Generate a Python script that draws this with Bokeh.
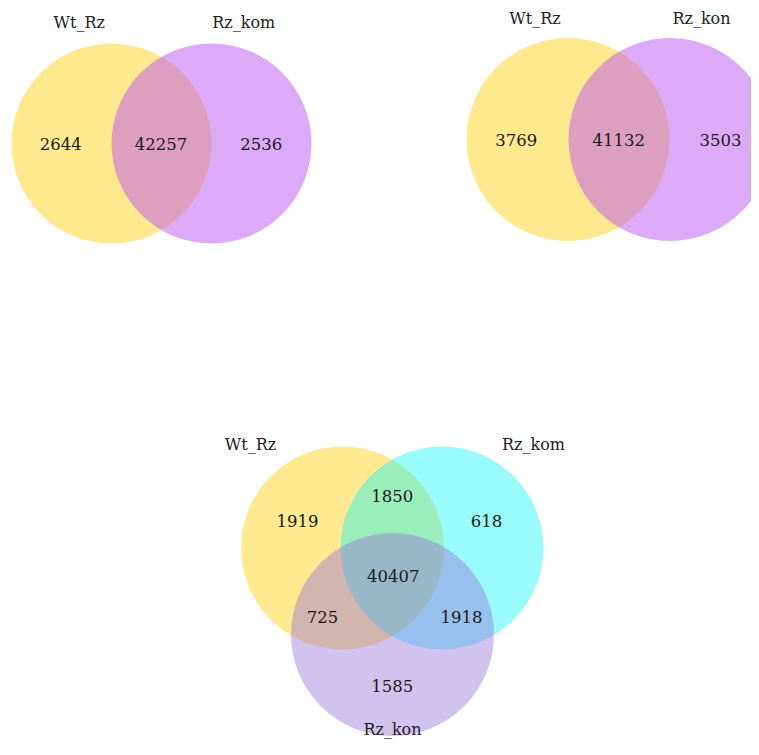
from bokeh.plotting import figure
from bokeh.models import Range1d, ColumnDataSource
from bokeh.core.properties import value
from bokeh.embed import file_html
from bokeh.resources import INLINE

# ---------------- data ----------------
# Venn 1: Wt_Rz vs Rz_kom
v1_sets = ["Wt_Rz", "Rz_kom"]
v1_counts = [2644, 42257, 2536]          # only A, A&B, only B
# Venn 2: Wt_Rz vs Rz_kon
v2_sets = ["Wt_Rz", "Rz_kon"]
v2_counts = [3769, 41132, 3503]
# Venn 3: Wt_Rz, Rz_kom, Rz_kon
v3_sets = ["Wt_Rz", "Rz_kom", "Rz_kon"]
v3_regions = ["A", "AB", "B", "ABC", "AC", "BC", "C"]
v3_counts = [1919, 1850, 618, 40407, 725, 1918, 1585]

# ---------------- layout (pixel coordinates of the picture) ----------------
W, H = 751, 739

v1_cx = [111, 211]
v1_cy = [143, 143]
v1_r = 100
v1_colors = ["#FFD31F", "#BB55F1"]
v1_alpha = 0.5
v1_label_x = [78.7, 243.3]
v1_label_y = [22, 22]
v1_num_x = [60.3, 160.5, 260.8]
v1_num_y = [143, 143, 143]

v2_cx = [567.5, 669.5]
v2_cy = [139, 139]
v2_r = 101.5
v2_colors = ["#FFD31F", "#BB55F1"]
v2_alpha = 0.5
v2_label_x = [534.5, 701]
v2_label_y = [17.5, 17.5]
v2_num_x = [515.8, 618.3, 720]
v2_num_y = [139, 139, 139]

v3_cx = [342, 441.5, 392]
v3_cy = [547.5, 547.5, 634]
v3_r = 101.5
v3_colors = ["#FFCC00", "#12F6F6", "#9671D7"]
v3_alpha = 0.43
v3_label_x = [250, 533, 392]
v3_label_y = [444, 444, 729]
v3_num_x = [297, 391.7, 486, 392.7, 322, 461, 391.7]
v3_num_y = [520, 495, 520, 575, 616, 616, 685]

FONT = value("DejaVu Serif")

p = figure(width=W, height=H, output_backend="svg", toolbar_location=None,
           x_range=Range1d(0, W), y_range=Range1d(H, 0),
           min_border=0, min_border_left=0, min_border_right=0,
           min_border_top=0, min_border_bottom=0)
p.axis.visible = False
p.grid.visible = False
p.outline_line_color = None
p.background_fill_color = "white"
p.border_fill_color = "white"


def draw_circles(cx, cy, r, colors, alpha):
    for x, y, c in zip(cx, cy, colors):
        p.circle(x=[x], y=[y], radius=r, fill_color=c, fill_alpha=alpha,
                 line_color=None)


def draw_texts(xs, ys, texts, color, size):
    src = ColumnDataSource(dict(x=xs, y=ys, t=[str(t) for t in texts]))
    p.text(x="x", y="y", text="t", source=src, text_font=FONT,
           text_font_size=size, text_align="center",
           text_baseline="alphabetic", text_color=color)


draw_circles(v1_cx, v1_cy, v1_r, v1_colors, v1_alpha)
draw_texts(v1_label_x, v1_label_y, v1_sets, "#222222", "16px")
draw_texts(v1_num_x, v1_num_y, v1_counts, "#1a1a1a", "16.5px")

draw_circles(v2_cx, v2_cy, v2_r, v2_colors, v2_alpha)
draw_texts(v2_label_x, v2_label_y, v2_sets, "#222222", "16px")
draw_texts(v2_num_x, v2_num_y, v2_counts, "#1a1a1a", "16.5px")

draw_circles(v3_cx, v3_cy, v3_r, v3_colors, v3_alpha)
draw_texts(v3_label_x, v3_label_y, v3_sets, "#222222", "16px")
draw_texts(v3_num_x, v3_num_y, v3_counts, "#1a1a1a", "16.5px")

open("out.html", "w").write(file_html(p, INLINE))
